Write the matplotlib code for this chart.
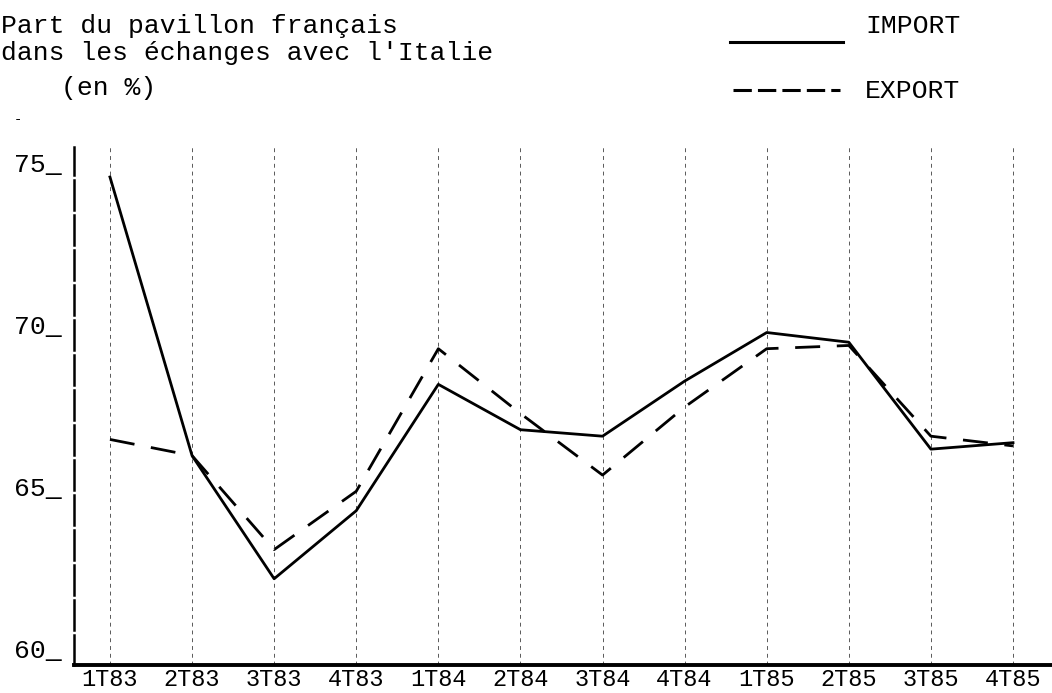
import matplotlib
matplotlib.use("Agg")
import matplotlib.pyplot as plt
from matplotlib.lines import Line2D

# Données (part du pavillon français, en %)
trimestres = ['1T83', '2T83', '3T83', '4T83', '1T84', '2T84',
              '3T84', '4T84', '1T85', '2T85', '3T85', '4T85']
part_import = [75.0, 66.4, 62.6, 64.7, 68.6, 67.2, 67.0, 68.7, 70.2, 69.9, 66.6, 66.8]
part_export = [66.9, 66.4, 63.5, 65.3, 69.7, 67.7, 65.8, 67.9, 69.7, 69.8, 67.0, 66.7]
graduations = [60, 65, 70, 75]

police = 'Liberation Mono'

fig = plt.figure(figsize=(10.52, 6.93), dpi=100)
ax = fig.add_axes([0.0703, 0.0404, 0.9297, 0.7475])

x = list(range(len(trimestres)))

# Lignes verticales pointillées (une par trimestre)
for xi in x:
    ax.axvline(xi, color='0.35', lw=0.7, linestyle=(0, (4, 4)), zorder=1)

ax.plot(x, part_import, color='black', lw=2.0, zorder=3)
ax.plot(x, part_export, color='black', lw=2.0, linestyle=(0, (9, 6)), zorder=3)

ax.set_xlim(-0.4385, 11.475)
ax.set_ylim(59.938, 75.926)

# Axes style machine à écrire
ax.spines['top'].set_visible(False)
ax.spines['right'].set_visible(False)
ax.spines['left'].set_linestyle((0, (12, 2)))
ax.spines['left'].set_linewidth(1.8)
ax.spines['bottom'].set_linewidth(2.8)

ax.set_xticks(x)
ax.set_xticklabels(trimestres, fontfamily=police, fontsize=17)
ax.tick_params(axis='x', length=0, pad=2)

# Graduations "75_" tapées à gauche de l'axe
ax.set_yticks([])
for v in graduations:
    ax.annotate(str(v) + '_', xy=(0, v), xycoords=('axes fraction', 'data'),
                xytext=(-12, 5), textcoords='offset pixels',
                ha='right', va='baseline', fontfamily=police, fontsize=19,
                annotation_clip=False)
fig.text(18 / 1052, 1 - 119 / 693, '-', fontfamily=police, fontsize=10,
         ha='center', va='center')

# Titre
fig.text(1 / 1052, 1 - 33 / 693, 'Part du pavillon français',
         fontfamily=police, fontsize=19, va='baseline')
fig.text(1 / 1052, 1 - 60 / 693, "dans les échanges avec l'Italie",
         fontfamily=police, fontsize=19, va='baseline')
fig.text(61 / 1052, 1 - 95 / 693, '(en %)',
         fontfamily=police, fontsize=19, va='baseline')

# Légende dessinée à la main
fig.add_artist(Line2D([730 / 1052, 843 / 1052], [1 - 42 / 693, 1 - 42 / 693],
                      color='black', lw=2.2))
fig.add_artist(Line2D([733 / 1052, 840 / 1052], [1 - 90 / 693, 1 - 90 / 693],
                      color='black', lw=2.2, linestyle=(0, (6, 2))))
fig.text(865 / 1052, 1 - 33 / 693, 'IMPORT', fontfamily=police, fontsize=19,
         va='baseline')
fig.text(865 / 1052, 1 - 98 / 693, 'EXPORT', fontfamily=police, fontsize=19,
         va='baseline')

fig.savefig('out.png', dpi=100)
